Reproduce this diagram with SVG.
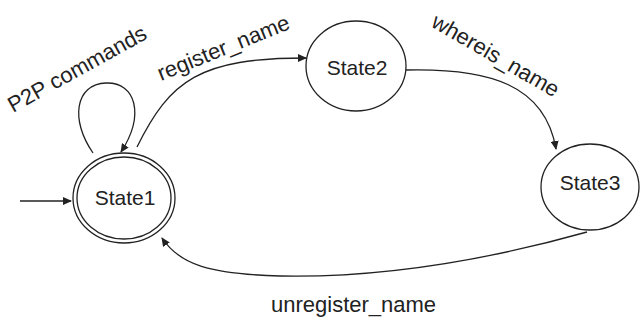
<svg xmlns="http://www.w3.org/2000/svg" width="644" height="322" viewBox="0 0 644 322">
<style>
.node{fill:#fff;stroke:#222;stroke-width:1.3}
.lbl{font-family:"Liberation Sans",Arial,sans-serif;font-size:21px;fill:#222;text-anchor:middle}
.elbl{font-family:"Liberation Sans",Arial,sans-serif;font-size:22px;fill:#222}
.edge{fill:none;stroke:#222;stroke-width:1.3;marker-end:url(#ah)}
</style>
<defs>
<marker id="ah" markerWidth="9" markerHeight="8" refX="8" refY="4" orient="auto" markerUnits="userSpaceOnUse">
<path d="M0,0 L9,4 L0,8 z" fill="#222"/>
</marker>
</defs>
<rect width="644" height="322" fill="#fff"/>
<g id="edges">
<line class="edge" x1="20" y1="201" x2="71" y2="201"/>
<path class="edge" d="M93 153 C70 120 75 84 106 83 C136 82 145 115 121 152"/>
<path class="edge" d="M137 147 C170 80 200 58 306 58"/>
<path class="edge" d="M406 70 C490 68 545 85 556 149"/>
<path class="edge" d="M587 232 C480 262 380 278 280 276 C210 274 180 265 162 238"/>
<text class="elbl" transform="translate(13 113) rotate(-29)">P2P commands</text>
<text class="elbl" transform="translate(161 81) rotate(-22)">register_name</text>
<text class="elbl" transform="translate(430 26) rotate(30)">whereis_name</text>
<text class="elbl" x="271" y="312">unregister_name</text>
</g>
<g id="State1">
<ellipse class="node" cx="124" cy="198" rx="51" ry="45"/>
<ellipse class="node" cx="124" cy="198" rx="47" ry="41"/>
<text class="lbl" x="125" y="205">State1</text>
</g>
<g id="State2">
<ellipse class="node" cx="356" cy="66" rx="50" ry="45"/>
<text class="lbl" x="357" y="75">State2</text>
</g>
<g id="State3">
<ellipse class="node" cx="590" cy="187" rx="49" ry="43"/>
<text class="lbl" x="590" y="190">State3</text>
</g>
</svg>
